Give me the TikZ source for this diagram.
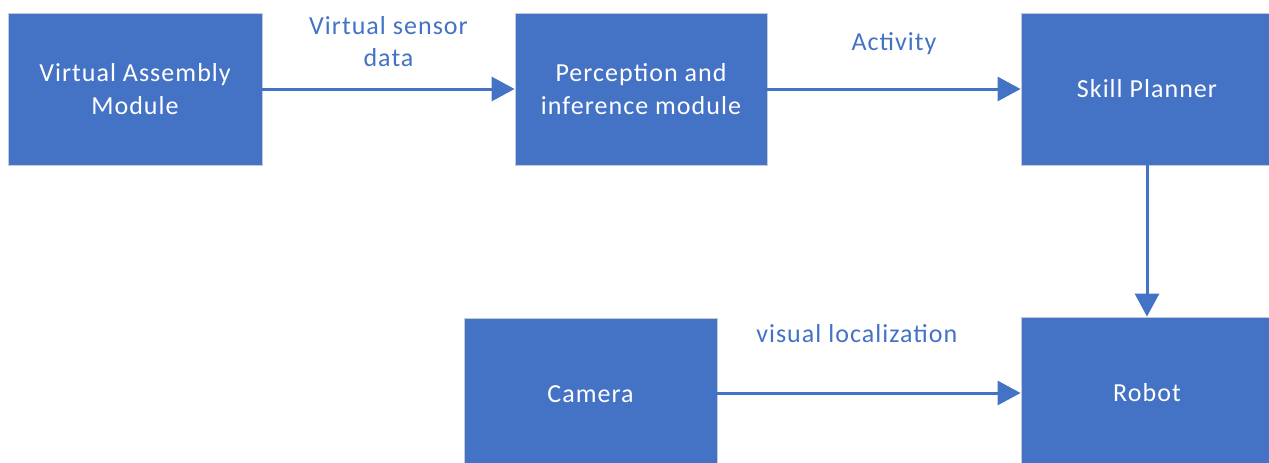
\documentclass[tikz,border=0pt]{standalone}
\usepackage{fontspec}
\setmainfont[LetterSpace=4]{Carlito}
\usetikzlibrary{arrows.meta}
\definecolor{officeblue}{HTML}{4472C4}
\definecolor{boxedge}{HTML}{C4CBD6}
\begin{document}
\begin{tikzpicture}[x=1pt,y=-1pt,
  block/.style={draw=boxedge, line width=0.8pt, fill=officeblue, text=white,
    minimum width=252pt, minimum height=152pt, inner sep=0pt, align=center,
    font=\fontsize{26}{33}\selectfont},
  flow/.style={draw=officeblue, line width=3pt,
    -{Triangle[length=23pt,width=24pt]}},
  lbl/.style={text=officeblue, inner sep=0pt, align=center,
    font=\fontsize{26}{32}\selectfont}]
\useasboundingbox (0,0) rectangle (1269,463);
\node[block, minimum width=254pt] (vam) at (135,89) {Virtual Assembly\\Module};
\node[block] (pim) at (641,89) {Perception and\\inference module};
\node[block] (sp) at (1147,89) {Skill Planner};
\node[block, minimum width=253pt] (cam) at (590.5,394) {Camera};
\node[block] (rob) at (1147,393) {Robot};
\draw[flow] (vam.east) -- node[lbl, midway, yshift=47pt] (l1) {Virtual sensor\\data} (pim.west);
\draw[flow] (pim.east) -- node[lbl, midway, anchor=base, yshift=39pt] (l2) {Activity} (sp.west);
\draw[flow] (sp.south) -- (rob.north);
\draw[flow] (cam.east |- rob.west) -- node[lbl, pos=0.46, anchor=base, yshift=51pt] (l3) {visual localization} (rob.west);
\end{tikzpicture}
\end{document}
